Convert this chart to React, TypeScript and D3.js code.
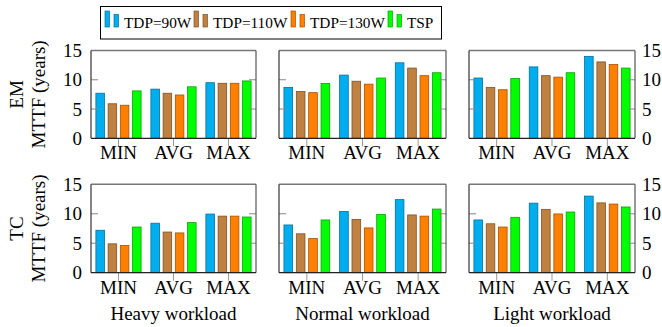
import { useRef, useEffect } from "react";
import * as d3 from "d3";

const groups = ["MIN", "AVG", "MAX"];
const series = ["TDP=90W", "TDP=110W", "TDP=130W", "TSP"];
const colors = ["#00AEEF", "#BF8040", "#FF8000", "#00FF00"];
const workloads = ["Heavy workload", "Normal workload", "Light workload"];
const metrics = ["EM", "TC"];
const yTicks = [0, 5, 10, 15];

// values[series][group] per panel
const emHeavy = [[7.7, 8.4, 9.5], [5.9, 7.7, 9.4], [5.65, 7.4, 9.4], [8.1, 8.8, 9.8]];
const emNormal = [[8.7, 10.8, 12.9], [8.0, 9.75, 12.0], [7.8, 9.25, 10.7], [9.35, 10.3, 11.2]];
const emLight = [[10.3, 12.2, 14.0], [8.7, 10.7, 13.05], [8.3, 10.45, 12.6], [10.2, 11.2, 12.0]];
const tcHeavy = [[7.2, 8.4, 9.95], [4.9, 6.9, 9.6], [4.6, 6.75, 9.6], [7.75, 8.5, 9.45]];
const tcNormal = [[8.1, 10.4, 12.4], [6.6, 9.05, 9.8], [5.8, 7.6, 9.6], [8.95, 9.9, 10.8]];
const tcLight = [[8.95, 11.8, 13.0], [8.3, 10.75, 11.85], [7.75, 9.97, 11.65], [9.4, 10.3, 11.15]];

const panelData = [
  [emHeavy, emNormal, emLight],
  [tcHeavy, tcNormal, tcLight],
];

function App() {
  const svgRef = useRef<SVGSVGElement>(null);

  useEffect(() => {
    const w = 662;
    const h = 327;
    const svg = d3.select(svgRef.current)
      .attr("width", w)
      .attr("height", h)
      .attr("font-family", "Liberation Serif")
      .style("position", "absolute")
      .style("left", "0px")
      .style("top", "0px");
    svg.selectAll("*").remove();

    const cols = [[91, 256], [279, 446], [469, 635]];
    const rows = [[50.5, 138.3], [184.3, 272.7]];

    rows.forEach((ry, ri) => {
      const y = d3.scaleLinear().domain([0, 15]).range([ry[1], ry[0]]);

      // row labels
      const cy = (ry[0] + ry[1]) / 2;
      svg.append("text")
        .attr("transform", `translate(23,${cy}) rotate(-90)`)
        .attr("text-anchor", "middle")
        .attr("font-size", 19)
        .text(metrics[ri]);
      svg.append("text")
        .attr("transform", `translate(45,${cy}) rotate(-90)`)
        .attr("text-anchor", "middle")
        .attr("font-size", 19)
        .text("MTTF (years)");

      cols.forEach((cx, ci) => {
        const g = svg.append("g");
        const x0 = d3.scaleBand().domain(groups).range([cx[0], cx[1]]);
        const x1 = d3.scaleBand().domain(series).range([0, x0.bandwidth()])
          .paddingInner(0.3).paddingOuter(0.4);
        const vals = panelData[ri][ci];

        // bars
        series.forEach((s, si) => {
          const c = d3.color(colors[si])!;
          g.selectAll(null)
            .data(groups)
            .join("rect")
            .attr("x", (d) => x0(d)! + x1(s)!)
            .attr("width", x1.bandwidth())
            .attr("y", (d, gi) => y(vals[si][gi]))
            .attr("height", (d, gi) => y(0) - y(vals[si][gi]))
            .attr("fill", colors[si])
            .attr("stroke", c.darker(1.2).formatHex())
            .attr("stroke-width", 0.8);
        });

        // inner y ticks on both sides
        [5, 10].forEach((t) => {
          g.append("line").attr("x1", cx[0]).attr("x2", cx[0] + 7)
            .attr("y1", y(t)).attr("y2", y(t)).attr("stroke", "#888").attr("stroke-width", 1);
          g.append("line").attr("x1", cx[1]).attr("x2", cx[1] - 7)
            .attr("y1", y(t)).attr("y2", y(t)).attr("stroke", "#888").attr("stroke-width", 1);
        });

        // x ticks and labels
        groups.forEach((gr) => {
          const xc = x0(gr)! + x0.bandwidth() / 2;
          g.append("line").attr("x1", xc).attr("x2", xc)
            .attr("y1", y(0)).attr("y2", y(0) + 8).attr("stroke", "#999").attr("stroke-width", 1);
          g.append("text").attr("x", xc).attr("y", y(0) + 21)
            .attr("text-anchor", "middle")
            .attr("font-size", 19)
            .text(gr);
        });

        // frame
        g.append("line").attr("x1", cx[0]).attr("x2", cx[1]).attr("y1", ry[0]).attr("y2", ry[0])
          .attr("stroke", "#777").attr("stroke-width", 1.5);
        g.append("line").attr("x1", cx[1]).attr("x2", cx[1]).attr("y1", ry[0]).attr("y2", ry[1])
          .attr("stroke", "#555").attr("stroke-width", 1.2);
        g.append("line").attr("x1", cx[0]).attr("x2", cx[0]).attr("y1", ry[0]).attr("y2", ry[1])
          .attr("stroke", "#333").attr("stroke-width", 1.2);
        g.append("line").attr("x1", cx[0]).attr("x2", cx[1]).attr("y1", ry[1]).attr("y2", ry[1])
          .attr("stroke", "#222").attr("stroke-width", 1.2);

        // y tick labels
        if (ci === 0 || ci === 2) {
          const left = ci === 0;
          g.selectAll(null)
            .data(yTicks)
            .join("text")
            .attr("x", left ? cx[0] - 9 : cx[1] + 7)
            .attr("y", (d) => y(d) + 6.5)
            .attr("text-anchor", left ? "end" : "start")
            .attr("font-size", 19)
            .text((d) => d);
        }

        // workload labels below bottom row
        if (ri === 1) {
          g.append("text").attr("x", (cx[0] + cx[1]) / 2).attr("y", 319.5)
            .attr("text-anchor", "middle")
            .attr("font-size", 19)
            .text(workloads[ci]);
        }
      });
    });

    // legend
    const leg = svg.append("g");
    leg.append("rect").attr("x", 100.5).attr("y", 6.5).attr("width", 341).attr("height", 32.5)
      .attr("fill", "white").attr("stroke", "black").attr("stroke-width", 1);
    const legX = [105, 194, 291, 388];
    series.forEach((s, si) => {
      const c = d3.color(colors[si])!;
      const stroke = c.darker(1.2).formatHex();
      leg.append("rect").attr("x", legX[si]).attr("y", 11).attr("width", 4.5).attr("height", 16)
        .attr("fill", colors[si]).attr("stroke", stroke).attr("stroke-width", 0.7);
      leg.append("rect").attr("x", legX[si] + 9).attr("y", 14.5).attr("width", 4.5).attr("height", 12.5)
        .attr("fill", colors[si]).attr("stroke", stroke).attr("stroke-width", 0.7);
      leg.append("text").attr("x", legX[si] + 19).attr("y", 28)
        .attr("font-size", 15.3)
        .text(s);
    });
  }, []);

  return <svg ref={svgRef}></svg>;
}

export default App;
